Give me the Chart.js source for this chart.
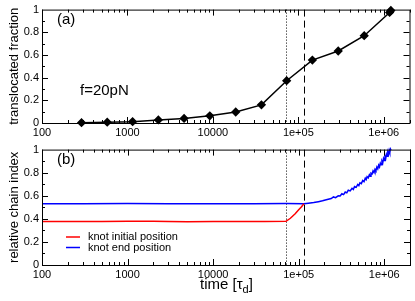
<!DOCTYPE html>
<html>
<head>
<meta charset="utf-8">
<script src="https://cdn.jsdelivr.net/npm/chart.js"></script>
<style>
  body { margin: 0; background: #fff; }
  canvas { position: absolute; left: 0; }
  #topChart { top: 0; }
  #bottomChart { top: 140px; }
</style>
</head>
<body>
<canvas id="topChart" width="415" height="140"></canvas>
<canvas id="bottomChart" width="415" height="161"></canvas>
<script>
// panel (a): translocated fraction vs time
const topTime = [290, 580, 1150, 2300, 4600, 9200, 18500, 37000, 73000, 146000, 293000, 590000, 1170000, 1210000];
const topFraction = [0.003, 0.007, 0.012, 0.027, 0.04, 0.063, 0.097, 0.16, 0.373, 0.555, 0.635, 0.77, 0.975, 0.992];

// panel (b): knot initial / end position
const initTime = [100, 200, 500, 1000, 2000, 3000, 5000, 10000, 20000, 40000, 71000, 80000, 91000, 100000, 108000, 115000];
const initIndex = [0.377, 0.378, 0.378, 0.379, 0.379, 0.376, 0.375, 0.376, 0.377, 0.378, 0.379, 0.405, 0.444, 0.478, 0.505, 0.53];

const endTime = [100, 300, 1000, 3000, 10000, 30000, 71000, 115000, 130000, 150000, 170000, 190000, 210000, 240000, 255000, 270000,
  290000, 305000, 320000, 335000, 350000, 365000, 380000, 400000, 420000, 435000, 450000, 470000, 490000, 505000, 520000,
  540000, 560000, 580000, 600000, 615000, 630000, 650000, 670000, 685000, 700000, 720000, 740000, 760000, 780000, 800000,
  820000, 840000, 860000, 880000, 900000, 920000, 940000, 960000, 980000, 1000000, 1020000, 1040000, 1060000, 1080000,
  1100000, 1120000, 1140000, 1160000, 1180000, 1200000];
const endIndex = [0.53, 0.531, 0.532, 0.531, 0.53, 0.531, 0.532, 0.53, 0.535, 0.541, 0.549, 0.556, 0.566, 0.576, 0.59, 0.584,
  0.6, 0.598, 0.618, 0.61, 0.632, 0.625, 0.648, 0.642, 0.665, 0.655, 0.68, 0.673, 0.698, 0.688, 0.712,
  0.705, 0.732, 0.722, 0.752, 0.74, 0.765, 0.755, 0.782, 0.77, 0.795, 0.788, 0.815, 0.8, 0.83, 0.818,
  0.848, 0.833, 0.865, 0.85, 0.882, 0.868, 0.9, 0.885, 0.922, 0.905, 0.94, 0.922, 0.958, 0.942,
  0.975, 0.958, 0.99, 0.972, 1.005, 0.995];

const xTickValues = [100, 1000, 10000, 100000, 1000000];
const xTickLabels = ['100', '1000', '10000', '1e+05', '1e+06'];
const yTickLabels = ['0', '0.2', '0.4', '0.6', '0.8', '1'];
const markTimes = [71000, 115000]; // dotted, dashed

const FONT = 'Liberation Sans, Arial, Helvetica, sans-serif';
Chart.defaults.font.family = FONT;
Chart.defaults.color = '#000';

const pairs = (xs, ys) => xs.map((x, i) => ({ x: x, y: ys[i] }));

function axes(yTitle, xHeight) {
  return {
    x: {
      type: 'logarithmic', min: 100, max: 2000000,
      grid: { display: false, drawTicks: false }, border: { display: false },
      afterBuildTicks: s => { s.ticks = xTickValues.map(v => ({ value: v })); },
      afterFit: s => { s.height = xHeight; },
      ticks: {
        autoSkip: false, maxRotation: 0, padding: 3, font: { size: 11 },
        callback: v => xTickLabels[xTickValues.indexOf(v)]
      }
    },
    y: {
      min: 0, max: 1,
      grid: { display: false, drawTicks: false }, border: { display: false },
      afterFit: s => { s.width = 42; },
      ticks: { stepSize: 0.2, padding: 3, font: { size: 11 }, callback: (v, i) => yTickLabels[i] },
      title: { display: true, text: yTitle, font: { size: 13 }, padding: { top: 7, bottom: 0 } }
    }
  };
}

// box, inward ticks, the two vertical marker lines and panel text
const framePlugin = {
  id: 'frame',
  beforeDatasetsDraw(chart) {
    const { ctx, chartArea: a, scales } = chart;
    ctx.save();
    ctx.strokeStyle = '#000';
    ctx.lineWidth = 1;
    markTimes.forEach((t, i) => {
      const px = Math.round(scales.x.getPixelForValue(t)) + 0.5;
      ctx.setLineDash(i === 0 ? [1, 2] : [7, 4]);
      ctx.beginPath();
      ctx.moveTo(px, a.top);
      ctx.lineTo(px, a.bottom);
      ctx.stroke();
    });
    ctx.restore();
  },
  afterDraw(chart) {
    const { ctx, chartArea: a, scales } = chart;
    const o = chart.options.plugins.frame;
    ctx.save();
    ctx.strokeStyle = '#000';
    ctx.lineWidth = 1;
    ctx.strokeRect(a.left + 0.5, a.top + 0.5, a.right - a.left, a.bottom - a.top);
    ctx.beginPath();
    for (let d = 100; d <= 1000000; d *= 10) {
      for (let m = 1; m <= 9; m++) {
        const v = m * d;
        if (v > 2000000) break;
        const px = Math.round(scales.x.getPixelForValue(v)) + 0.5;
        const len = m === 1 ? 6 : 3;
        ctx.moveTo(px, a.bottom); ctx.lineTo(px, a.bottom - len);
        ctx.moveTo(px, a.top); ctx.lineTo(px, a.top + len);
      }
    }
    for (let k = 1; k < 10; k++) {
      const py = Math.round(scales.y.getPixelForValue(k / 10)) + 0.5;
      const len = k % 2 === 0 ? 6 : 3;
      ctx.moveTo(a.left, py); ctx.lineTo(a.left + len, py);
      ctx.moveTo(a.right, py); ctx.lineTo(a.right - len, py);
    }
    ctx.stroke();

    ctx.fillStyle = '#000';
    ctx.textBaseline = 'middle';
    ctx.font = '15px ' + FONT;
    ctx.fillText(o.tag, 57, 19.5);
    if (o.note) ctx.fillText(o.note, 80, 91);

    if (o.legend) {
      ctx.font = '11px ' + FONT;
      chart.data.datasets.forEach((ds, i) => {
        const y = 97 + i * 10.5;
        ctx.strokeStyle = ds.borderColor;
        ctx.lineWidth = 1.5;
        ctx.beginPath();
        ctx.moveTo(66, y); ctx.lineTo(80, y);
        ctx.stroke();
        ctx.fillText(ds.label, 88, y);
      });
    }

    if (o.xTitle) {
      ctx.textBaseline = 'alphabetic';
      ctx.font = '15px ' + FONT;
      let x = 200;
      const base = 289;
      const main = 'time [\u03c4';
      ctx.fillText(main, x, base - 140);
      x += ctx.measureText(main).width;
      ctx.font = '11px ' + FONT;
      ctx.fillText('d', x, base - 140 + 4);
      x += ctx.measureText('d').width;
      ctx.font = '15px ' + FONT;
      ctx.fillText(']', x, base - 140);
    }
    ctx.restore();
  }
};

new Chart(document.getElementById('topChart'), {
  type: 'line',
  data: {
    datasets: [{
      label: 'translocated fraction',
      data: pairs(topTime, topFraction),
      borderColor: '#000',
      backgroundColor: '#000',
      borderWidth: 1.5,
      pointStyle: 'rectRot',
      pointRadius: 3.6,
      pointBackgroundColor: '#000',
      tension: 0,
      clip: false
    }]
  },
  options: {
    responsive: false,
    animation: false,
    layout: { padding: { top: 5, right: 5, left: 0, bottom: 0 } },
    scales: axes('translocated fraction', 17),
    plugins: {
      legend: { display: false },
      tooltip: { enabled: false },
      frame: { tag: '(a)', note: 'f=20pN' }
    }
  },
  plugins: [framePlugin]
});

new Chart(document.getElementById('bottomChart'), {
  type: 'line',
  data: {
    datasets: [{
      label: 'knot initial position',
      data: pairs(initTime, initIndex),
      borderColor: '#ff0000',
      borderWidth: 1.5,
      pointRadius: 0,
      tension: 0
    }, {
      label: 'knot end position',
      data: pairs(endTime, endIndex),
      borderColor: '#0000ff',
      borderWidth: 1.5,
      pointRadius: 0,
      tension: 0,
      clip: 3
    }]
  },
  options: {
    responsive: false,
    animation: false,
    layout: { padding: { top: 5, right: 5, left: 0, bottom: 0 } },
    scales: axes('relative chain index', 36),
    plugins: {
      legend: { display: false },
      tooltip: { enabled: false },
      frame: { tag: '(b)', legend: true, xTitle: true }
    }
  },
  plugins: [framePlugin]
});
</script>
</body>
</html>
